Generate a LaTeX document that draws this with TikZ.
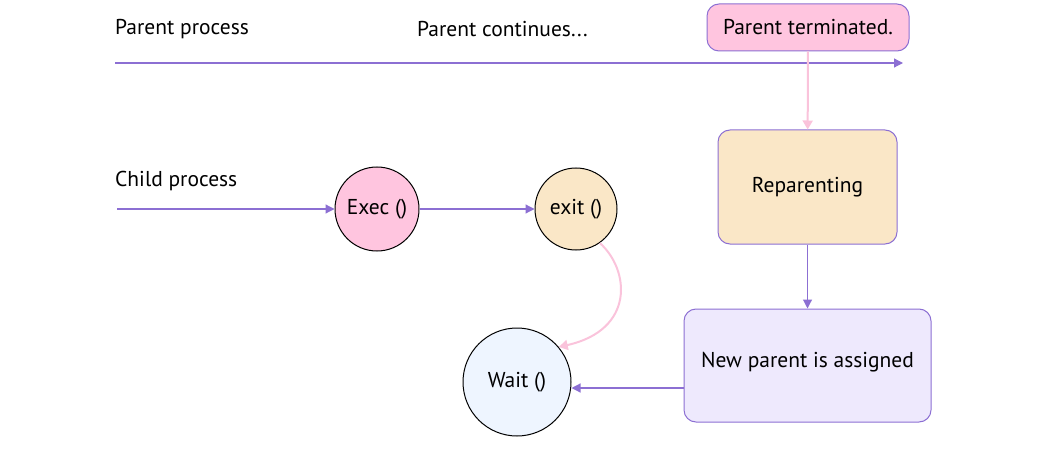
\documentclass[tikz,border=0pt]{standalone}
\usepackage{fontspec}
\setmainfont{PT Sans}
\usetikzlibrary{arrows.meta,positioning,shapes.geometric}
\definecolor{lineviolet}{HTML}{8C6FD3}
\definecolor{pinkfill}{HTML}{FFC5DF}
\definecolor{pinkline}{HTML}{FAC3DB}
\definecolor{wheatfill}{HTML}{FAE7C7}
\definecolor{bluefill}{HTML}{EEF5FF}
\definecolor{lavfill}{HTML}{EEE9FD}

\begin{document}
\begin{tikzpicture}[
  x=1pt, y=-1pt,
  every node/.style={font=\fontsize{21.5}{26}\selectfont},
  label/.style={anchor=west, inner sep=0pt},
  state/.style={draw, circle, fill=#1, inner sep=0pt, line width=1pt},
  box/.style={draw=lineviolet, rectangle, rounded corners=12pt, fill=#1, inner sep=0pt, line width=1pt},
  flow/.style={draw=lineviolet, line width=1.2pt, -{Triangle[length=9pt,width=9pt]}},
  pinkflow/.style={draw=pinkline, line width=2pt, -{Triangle[length=9pt,width=10pt]}}
]
\useasboundingbox (0,0) rectangle (1048,449);

% parent timeline
\node[label] (pp) at (115,29) {Parent process};
\node[label] (pc) at (417,29) {Parent continues...};
\node[box=pinkfill, minimum width=202pt, minimum height=47pt] (term) at (808,27.5) {Parent terminated.};
\coordinate (pstart) at (115,63);
\coordinate (pend) at (903,63);
\draw[flow] (pstart) -- (pend);

% child timeline
\node[label] (cp) at (115,181) {Child process};
\coordinate (cstart) at (117,209);
\node[state=pinkfill, minimum size=84pt] (exec) at (377,209) {Exec ()};
\node[state=wheatfill, minimum size=82pt] (exit) at (576,209) {exit ()};
\node[state=bluefill, minimum size=108pt] (wait) at (517,382) {Wait ()};
\draw[flow] (cstart) -- (exec);
\draw[flow] (exec) -- (exit);

% reparenting
\node[box=wheatfill, minimum width=179pt, minimum height=114pt] (rep) at (807.5,187) {Reparenting};
\node[box=lavfill, minimum width=247pt, minimum height=113pt, text depth=12pt] (newp) at (807.5,365.5) {New parent is assigned};
\draw[pinkflow] (term) -- (rep);
\draw[flow] (rep) -- (newp);
\draw[flow] (newp.west |- 0,388) -- (wait.east |- 0,388);
\draw[pinkflow] (exit.-55) .. controls (630,270) and (635,330) .. (wait.40);
\end{tikzpicture}
\end{document}
